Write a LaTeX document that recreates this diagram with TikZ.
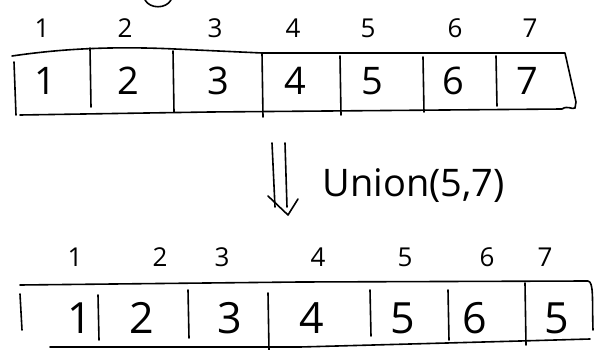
\documentclass[tikz,border=0pt]{standalone}
\usepackage{fontspec}
\setmainfont{Open Sans}
\usetikzlibrary{arrows.meta, positioning}

\begin{document}
\begin{tikzpicture}[x=1pt, y=-1pt, line width=1.6pt, line cap=round, line join=round,
    idx/.style={inner sep=0pt, font=\fontsize{26}{26}\selectfont},
    cell/.style={inner sep=0pt, font=\fontsize{38}{38}\selectfont},
    bigcell/.style={inner sep=0pt, font=\fontsize{43}{43}\selectfont}]
  \useasboundingbox (0,0) rectangle (595,350);
  % scrap of a curve cut off at the top
  \draw (145,0) .. controls (150,9) and (166,9) .. (171,0);
  % top array
  \foreach \x [count=\i] in {42,125,215,293,368,455,530}
    \node[idx] (ti\i) at (\x,28) {\i};
  \foreach \x [count=\i] in {45,128,218,295,372,453,527}
    \node[cell] (tc\i) at (\x,81) {\i};
  \draw (12,56) .. controls (60,49) and (110,46) .. (175,49) -- (262,53) -- (565,53) -- (576,102) -- (575,108);
  \draw (20,115) -- (210,112) -- (562,109) .. controls (568,105) and (572,110) .. (575,108);
  \draw (14,62) -- (16,115);
  \foreach \x/\ya/\yb in {90/48/107, 173/51/112, 262/53/117, 340/56/115, 423/57/112, 496/56/106}
    \draw (\x,\ya) -- (\x+1,\yb);
  % union step
  \coordinate (la) at (272,143);
  \coordinate (lb) at (275,207);
  \coordinate (ra) at (285,143);
  \coordinate (rb) at (287,207);
  \coordinate (tip) at (288,215);
  \draw (la) -- (lb);
  \draw (ra) -- (rb);
  \draw (tip) ++(-20,-19) -- (tip) -- ++(10,-16);
  \node[font=\fontsize{38}{38}\selectfont, anchor=west, inner sep=0pt] (union) at (322,186) {Union(5,7)};
  % bottom array
  \foreach \x [count=\i] in {75,160,222,318,405,487,545}
    \node[idx] (bi\i) at (\x,257) {\i};
  \foreach \x/\v [count=\i] in {80/1,142/2,230/3,312/4,403/5,475/6,557/5}
    \node[bigcell] (bc\i) at (\x,318) {\v};
  \draw (20,285) -- (300,282) -- (588,281) .. controls (594,282) and (592,300) .. (593,330);
  \draw (50,347) -- (300,347) -- (520,341) -- (590,339);
  \draw (20,294) -- (22,330);
  \foreach \x/\ya/\yb in {98/295/340, 188/290/338, 268/293/350, 370/290/336, 448/290/340, 525/283/345}
    \draw (\x,\ya) -- (\x+1,\yb);
\end{tikzpicture}
\end{document}
